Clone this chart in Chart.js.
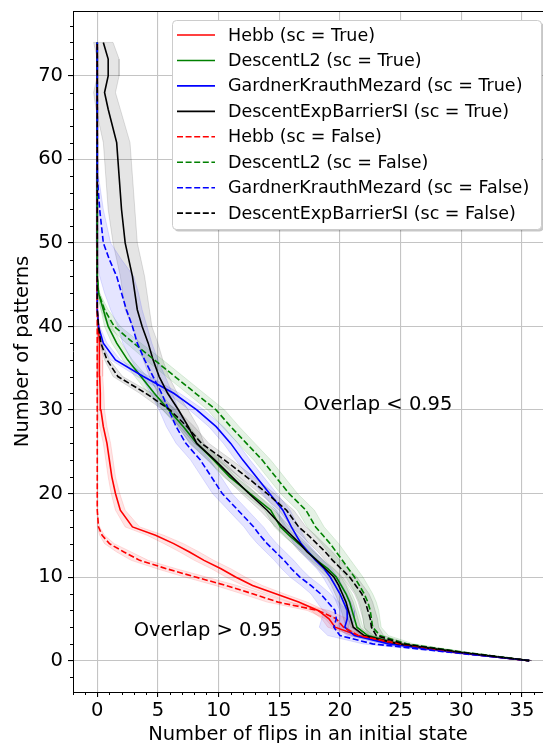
<!DOCTYPE html>
<html>
<head>
<meta charset="utf-8">
<script src="https://cdn.jsdelivr.net/npm/chart.js@4.4.1/dist/chart.umd.min.js"></script>
<style>
  html, body { margin: 0; padding: 0; background: #fff; }
</style>
</head>
<body>
<canvas id="flipsChart" width="543" height="743"></canvas>
<script>
// y values shared by every curve (number of stored patterns)
const patterns = [0,1,2,3,4,5,6,7,8,9,10,11,12,13,14,15,16,18,20,22,24,26,28,30,32,34,36,38,40,42,44,46,48,50,54,58,62,66,68,70,72,74];

// mean number of flips, and half width of the shaded band
const hebbTrue     = [35.6,29.3,24.5,21.5,19.6,19.1,18.2,16.6,14.7,12.8,11.4,10.2,8.8,7.6,6.3,4.8,2.9,1.9,1.5,1.2,1.0,0.8,0.5,0.3,0.25,0.2,0.2,0.15,0.1,0,0,0,0,0,0,0,0,0,0,0,0,0];
const hebbTrueSd   = [0.2,0.4,0.5,0.5,0.6,0.6,0.6,0.7,0.7,0.8,0.8,0.8,0.8,0.8,0.8,0.7,0.6,0.4,0.35,0.3,0.3,0.3,0.3,0.3,0.3,0.25,0.25,0.2,0.1,0,0,0,0,0,0,0,0,0,0,0,0,0];
const l2True       = [35.6,29.8,24.8,22.3,21.4,21.2,21.0,20.8,20.5,20.1,19.7,19.0,18.1,17.4,16.6,15.8,15.1,14.3,12.6,10.9,9.6,8.2,7.1,5.9,4.7,3.6,2.5,1.6,0.9,0.5,0.1,0,0,0,0,0,0,0,0,0,0,0];
const l2TrueSd     = [0.2,0.4,0.5,0.5,0.5,0.5,0.5,0.5,0.5,0.5,0.5,0.5,0.5,0.5,0.5,0.5,0.5,0.5,0.5,0.5,0.5,0.5,0.5,0.5,0.5,0.5,0.4,0.4,0.3,0.2,0.1,0,0,0,0,0,0,0,0,0,0,0];
const gkmTrue      = [35.6,29.5,24.0,21.2,20.4,20.6,20.6,20.3,20.0,19.6,19.2,18.7,18.0,17.4,16.8,16.4,16.0,15.3,14.2,13.1,12.0,11.0,9.8,8.2,6.3,3.8,1.5,0.5,0.1,0,0,0,0,0,0,0,0,0,0,0,0,0];
const gkmTrueSd    = [0.2,0.4,0.5,0.6,0.6,0.6,0.6,0.6,0.6,0.6,0.6,0.6,0.6,0.6,0.6,0.6,0.6,0.6,0.6,0.6,0.6,0.6,0.6,0.6,0.5,0.5,0.4,0.3,0.1,0,0,0,0,0,0,0,0,0,0,0,0,0];
const barrierTrue  = [35.6,29.8,24.8,22.0,21.1,20.9,20.7,20.5,20.2,19.9,19.5,18.8,18.1,17.3,16.7,16.0,15.3,14.0,12.5,11.1,9.7,8.2,7.5,6.7,5.8,5.1,4.6,4.2,3.7,3.3,3.1,2.9,2.6,2.3,2.0,1.8,1.6,0.9,0.6,0.9,0.9,0.5];
const barrierTrueSd= [0.2,0.4,0.5,0.5,0.6,0.6,0.6,0.6,0.6,0.6,0.6,0.6,0.6,0.6,0.6,0.6,0.6,0.6,0.6,0.6,0.6,0.6,0.8,0.8,0.8,0.8,0.8,0.8,0.8,1.0,1.0,1.0,1.0,1.0,1.1,1.1,1.1,1.0,0.9,0.9,0.9,0.8];
const hebbFalse    = [35.6,29.5,25.0,21.5,20.3,19.7,18.2,14.9,12.8,10.6,8.1,5.7,3.5,2.2,1.0,0.4,0.1,0,0,0,0,0,0,0,0,0,0,0,0,0,0,0,0,0,0,0,0,0,0,0,0,0];
const hebbFalseSd  = [0.2,0.4,0.5,0.6,0.9,0.9,0.9,0.9,0.9,0.9,0.9,0.8,0.7,0.6,0.4,0.2,0.1,0,0,0,0,0,0,0,0,0,0,0,0,0,0,0,0,0,0,0,0,0,0,0,0,0];
const l2False      = [35.6,30.2,25.5,23.3,22.7,22.6,22.5,22.3,22.0,21.6,21.2,20.7,20.2,19.7,19.2,18.6,18.0,17.2,15.8,14.7,13.6,12.3,11.0,9.8,8.1,6.4,4.7,3.0,1.4,0.6,0.1,0,0,0,0,0,0,0,0,0,0,0];
const l2FalseSd    = [0.2,0.4,0.6,0.7,0.7,0.7,0.7,0.7,0.7,0.7,0.7,0.7,0.7,0.7,0.7,0.7,0.7,0.7,0.7,0.7,0.7,0.7,0.7,0.7,0.7,0.7,0.7,0.6,0.5,0.3,0.1,0,0,0,0,0,0,0,0,0,0,0];
const gkmFalse     = [35.6,29.0,22.7,20.0,19.5,19.7,19.6,19.0,18.4,17.6,16.7,16.0,15.4,14.7,14.0,13.4,12.9,11.6,10.3,9.4,8.5,7.3,6.5,5.9,5.3,4.6,3.9,3.3,2.9,2.4,2.0,1.6,1.0,0.5,0.2,0,0,0,0,0,0,0];
const gkmFalseSd   = [0.2,0.4,0.8,1.0,1.2,1.2,1.0,0.9,0.8,0.8,0.8,0.8,0.8,0.8,0.8,0.8,0.8,0.8,0.8,0.8,0.8,0.8,0.8,0.8,0.9,1.0,1.1,1.2,1.2,1.3,1.4,1.4,1.0,0.6,0.3,0.1,0,0,0,0,0,0];
const barrierFalse = [35.6,30.0,25.2,23.0,22.6,22.5,22.3,22.1,21.8,21.3,20.8,20.1,19.4,18.8,18.1,17.4,16.6,15.6,14.0,12.3,10.5,8.6,7.4,6.0,4.0,1.7,0.8,0.3,0.1,0,0,0,0,0,0,0,0,0,0,0,0,0];
const barrierFalseSd=[0.2,0.4,0.5,0.6,0.6,0.6,0.6,0.6,0.6,0.6,0.6,0.6,0.6,0.6,0.6,0.6,0.6,0.6,0.6,0.6,0.6,0.6,0.6,0.6,0.5,0.4,0.2,0.1,0,0,0,0,0,0,0,0,0,0,0,0,0,0];

const xTickValues = [0,5,10,15,20,25,30,35];
const yTickValues = [0,10,20,30,40,50,60,70];

const FONT = "'DejaVu Sans', 'Liberation Sans', sans-serif";

const series = [
  {label: 'Hebb (sc = True)', mean: hebbTrue, sd: hebbTrueSd, rgb: '255,0,0', dashed: false},
  {label: 'DescentL2 (sc = True)', mean: l2True, sd: l2TrueSd, rgb: '0,128,0', dashed: false},
  {label: 'GardnerKrauthMezard (sc = True)', mean: gkmTrue, sd: gkmTrueSd, rgb: '0,0,255', dashed: false},
  {label: 'DescentExpBarrierSI (sc = True)', mean: barrierTrue, sd: barrierTrueSd, rgb: '0,0,0', dashed: false},
  {label: 'Hebb (sc = False)', mean: hebbFalse, sd: hebbFalseSd, rgb: '255,0,0', dashed: true},
  {label: 'DescentL2 (sc = False)', mean: l2False, sd: l2FalseSd, rgb: '0,128,0', dashed: true},
  {label: 'GardnerKrauthMezard (sc = False)', mean: gkmFalse, sd: gkmFalseSd, rgb: '0,0,255', dashed: true},
  {label: 'DescentExpBarrierSI (sc = False)', mean: barrierFalse, sd: barrierFalseSd, rgb: '0,0,0', dashed: true}
];

const DASH = [6, 2.6];
let datasets = [];

series.forEach((s, i) => {
  // band as closed polygon: left edge going up, right edge coming back down
  let band = s.mean.map((m, k) => ({x: m - s.sd[k], y: patterns[k]}));
  let right = s.mean.map((m, k) => ({x: m + s.sd[k], y: patterns[k]})).reverse();
  datasets.push({
    label: s.label + ' band',
    isBand: true,
    data: band.concat(right),
    showLine: true,
    fill: 'shape',
    backgroundColor: 'rgba(' + s.rgb + ',0.1)',
    borderColor: 'rgba(' + s.rgb + ',0.12)',
    borderWidth: 1,
    pointRadius: 0,
    tension: 0,
    order: 100 - i
  });
});

series.forEach((s, i) => {
  datasets.push({
    label: s.label,
    isBand: false,
    data: s.mean.map((m, k) => ({x: m, y: patterns[k]})),
    showLine: true,
    fill: false,
    borderColor: 'rgb(' + s.rgb + ')',
    borderWidth: 1.6,
    borderDash: s.dashed ? DASH : [],
    pointRadius: 0,
    tension: 0,
    order: 20 - i
  });
});

// top spine, minor ticks, text labels and the legend
const extras = {
  id: 'extras',
  afterDraw(chart) {
    const ctx = chart.ctx;
    const area = chart.chartArea;
    const xs = chart.scales.x, ys = chart.scales.y;
    ctx.save();
    ctx.strokeStyle = '#000';
    ctx.lineWidth = 1;
    ctx.beginPath();
    ctx.moveTo(area.left, area.top + 0.5);
    ctx.lineTo(area.right, area.top + 0.5);
    ctx.stroke();

    // minor ticks
    ctx.beginPath();
    for (let v = -2; v <= 36; v++) {
      if (v % 5 === 0) continue;
      const px = Math.round(xs.getPixelForValue(v)) + 0.5;
      ctx.moveTo(px, area.bottom);
      ctx.lineTo(px, area.bottom + 3);
    }
    for (let v = -2; v <= 76; v += 2) {
      if (v % 10 === 0) continue;
      const py = Math.round(ys.getPixelForValue(v)) + 0.5;
      ctx.moveTo(area.left - 3, py);
      ctx.lineTo(area.left, py);
    }
    ctx.stroke();

    ctx.fillStyle = '#000';
    ctx.font = '19.5px ' + FONT;
    ctx.textBaseline = 'alphabetic';
    ctx.textAlign = 'left';
    ctx.fillText('Overlap < 0.95', xs.getPixelForValue(17), ys.getPixelForValue(30));
    ctx.fillText('Overlap > 0.95', xs.getPixelForValue(3), ys.getPixelForValue(3));

    // legend box
    const bx = 172.5, by = 20.5, bw = 369, bh = 209, r = 4;
    const rr = (x, y) => {
      ctx.beginPath();
      ctx.moveTo(x + r, y);
      ctx.arcTo(x + bw, y, x + bw, y + bh, r);
      ctx.arcTo(x + bw, y + bh, x, y + bh, r);
      ctx.arcTo(x, y + bh, x, y, r);
      ctx.arcTo(x, y, x + bw, y, r);
      ctx.closePath();
    };
    ctx.fillStyle = 'rgba(0,0,0,0.22)';
    rr(bx + 2, by + 2);
    ctx.fill();
    ctx.fillStyle = '#fff';
    rr(bx, by);
    ctx.fill();
    ctx.strokeStyle = '#cccccc';
    ctx.stroke();

    ctx.font = '17.5px ' + FONT;
    ctx.textBaseline = 'middle';
    const lines = chart.data.datasets.filter(d => !d.isBand);
    lines.forEach((d, i) => {
      const cy = 35 + i * 25.45;
      ctx.strokeStyle = d.borderColor;
      ctx.lineWidth = d.borderWidth;
      ctx.setLineDash(d.borderDash);
      ctx.beginPath();
      ctx.moveTo(177, cy);
      ctx.lineTo(215, cy);
      ctx.stroke();
      ctx.setLineDash([]);
      ctx.fillStyle = '#000';
      ctx.fillText(d.label, 228, cy + 1);
    });
    ctx.restore();
  }
};

let CHART = document.getElementById('flipsChart');
let flipsChart = new Chart(CHART, {
  type: 'scatter',
  data: { datasets: datasets },
  options: {
    responsive: false,
    animation: false,
    events: [],
    layout: { padding: { top: 11, left: 0, right: 0, bottom: 0 } },
    plugins: { legend: { display: false }, tooltip: { enabled: false } },
    scales: {
      x: {
        type: 'linear',
        min: -2,
        max: 36.74,
        afterBuildTicks: (scale) => { scale.ticks = xTickValues.map(v => ({value: v})); },
        afterFit: (scale) => { scale.height = 51; scale.paddingLeft = 0; scale.paddingRight = 0; },
        grid: { color: '#c4c4c4', lineWidth: 1.1, drawTicks: true, tickLength: 5, tickColor: '#000' },
        border: { display: true, color: '#000', width: 1 },
        ticks: { color: '#000', font: { family: FONT, size: 19.5 }, padding: 2, maxRotation: 0, autoSkip: false },
        title: { display: true, text: 'Number of flips in an initial state', color: '#000',
                 font: { family: FONT, size: 19.5 }, padding: { top: 0, bottom: -4 } }
      },
      y: {
        type: 'linear',
        min: -3.76,
        max: 77.76,
        afterBuildTicks: (scale) => { scale.ticks = yTickValues.map(v => ({value: v})); },
        afterFit: (scale) => { scale.width = 73; scale.paddingTop = 0; scale.paddingBottom = 0; },
        grid: { color: '#c4c4c4', lineWidth: 1.1, drawTicks: true, tickLength: 5, tickColor: '#000' },
        border: { display: true, color: '#000', width: 1 },
        ticks: { color: '#000', font: { family: FONT, size: 19.5 }, padding: 5, autoSkip: false },
        title: { display: true, text: 'Number of patterns', color: '#000',
                 font: { family: FONT, size: 19.5 }, padding: { top: 11, bottom: 0 } }
      }
    }
  },
  plugins: [extras]
});
</script>
</body>
</html>
